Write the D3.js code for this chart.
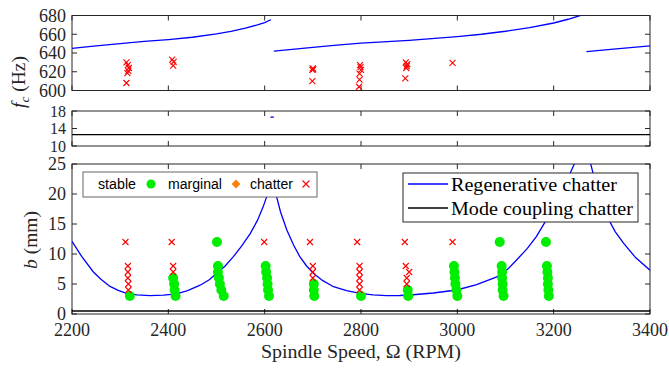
<!DOCTYPE html>
<html>
<head>
<meta charset="utf-8">
<script src="https://cdn.jsdelivr.net/npm/d3@7"></script>
<style>
body{margin:0;background:#fff;}
svg{display:block;}
text{font-family:"Liberation Serif","Times New Roman",serif;fill:#262626;}
</style>
</head>
<body>
<svg id="chart" width="669" height="371"></svg>
<script>
// ---------- data ----------
const xTicks = [2200, 2400, 2600, 2800, 3000, 3200, 3400];
const fTicks = [600, 620, 640, 660, 680];
const midTicks = [10, 14, 18];
const bTicks = [0, 5, 10, 15, 20, 25];

// regenerative chatter frequency branches (top panel)
const freqBranch1 = [[2200,645],[2250,647.5],[2300,650],[2350,652.3],[2400,654.3],[2450,656.8],[2500,660.3],[2530,663],[2560,666.5],[2585,670],[2600,672.5],[2613,675.5]];
const freqBranch2 = [[2619,642],[2700,646],[2750,648.5],[2800,650.5],[2900,653.5],[3000,657.5],[3050,660],[3100,663.2],[3150,667],[3200,672],[3230,676],[3258,680.5]];
const freqBranch3 = [[3268,641.5],[3330,644.5],[3400,647.5]];
// middle panel
const midRegen = [[2612,16.6],[2619,16.6]];
const midCoupling = [[2200,12.6],[3400,12.6]];
// stability lobes (bottom panel)
const lobeLeft = [[2200,12.1],[2220,9.6],[2244,7.05],[2260,5.8],[2279,4.6],[2296,3.95],[2313,3.45],[2335,3.2],[2362,3.06],[2390,3.15],[2417,3.35],[2440,3.9],[2466,4.8],[2485,5.7],[2500,6.75],[2518,8.0],[2535,9.55],[2552,11.3],[2570,13.4],[2585,15.6],[2597,17.9],[2608,20.4],[2612,21.1],[2618,21.1],[2622,20.4]];
const lobeMid = [[2622,20.4],[2633,17.0],[2646,14.0],[2660,11.5],[2673,9.55],[2687,8.0],[2701,6.8],[2720,5.6],[2743,4.55],[2770,3.9],[2798,3.45],[2825,3.2],[2853,3.06],[2880,3.08],[2902,3.17],[2950,3.5],[2999,4.0],[3040,4.9],[3082,6.2],[3105,7.5],[3123,9.0],[3145,10.9],[3164,12.9],[3182,15.3],[3199,17.9],[3218,20.6],[3234,23.4],[3251,26.5],[3264,29.5]];
const lobeRight = [[3264,29.5],[3276,25.3],[3292,20.2],[3311,16.2],[3328,13.7],[3345,11.8],[3370,9.4],[3400,7.3]];
const couplingB = [[2200,0.5],[3400,0.5]];

// measured points
const stableRpm = [2320, 2410,2412,2413,2415, 2501,2503,2503,2505,2507,2510,2515, 2602,2603,2605,2606,2607,2609, 2702,2702,2703, 2800, 2897,2898, 2993,2994,2995,2996,2998,3000, 3088,3092,3093,3093,3094,3094,3096, 3184,3186,3187,3188,3188,3189,3190];
const stableB   = [3, 6,5,4,3, 12,8,7,6,5,4,3, 8,7,6,5,4,3, 5,4,3, 3, 4,3, 8,7,6,5,4,3, 12,8,7,6,5,4,3, 12,8,7,6,5,4,3];
const chatterRpm = [2311,2316,2316,2316,2317,2317, 2407,2410,2410, 2599, 2694,2700,2700,2700, 2792,2797,2797,2797,2797,2797, 2891,2893,2900,2895,2895, 2990];
const chatterB   = [12,8,7,6,5,4, 12,8,7, 12, 12,8,7,6, 12,8,7,6,5,4, 12,8,7,6,5, 12];
const chatterFreqRpm = [2313,2316,2318,2317,2315,2313, 2408,2411,2410, 2700,2701,2699,2699, 2798,2799,2800,2797,2797,2796, 2893,2896,2895,2894,2892, 2990];
const chatterFreq    = [630,627,624,621,618.5,608, 633,630.5,626.5, 623.5,622.5,622,610, 627,625,622,618,611.5,604, 630,628,626,624,613, 629.5];

// ---------- layout ----------
const svg = d3.select('#chart');
const X0 = 72, X1 = 650;
const x = d3.scaleLinear().domain([2200, 3400]).range([X0, X1]);
const yTop = d3.scaleLinear().domain([600, 680]).range([90.5, 15.5]);
const yMid = d3.scaleLinear().domain([10, 18]).range([146, 111]);
const yBot = d3.scaleLinear().domain([0, 25]).range([314, 164]);
const axisColor = '#262626';

function panel(id, yScale, yTickVals, showX, fs) {
  const g = svg.append('g');
  const [yb, yt] = yScale.range();
  svg.append('clipPath').attr('id', id).append('rect')
    .attr('x', X0).attr('y', yt).attr('width', X1 - X0).attr('height', yb - yt);
  const frame = g.append('g').attr('class', 'frame');
  const tl = 5;
  xTicks.forEach(v => {
    frame.append('line').attr('x1', x(v)).attr('x2', x(v)).attr('y1', yb).attr('y2', yb - tl);
    frame.append('line').attr('x1', x(v)).attr('x2', x(v)).attr('y1', yt).attr('y2', yt + tl);
  });
  yTickVals.forEach(v => {
    frame.append('line').attr('x1', X0).attr('x2', X0 + tl).attr('y1', yScale(v)).attr('y2', yScale(v));
    frame.append('line').attr('x1', X1).attr('x2', X1 - tl).attr('y1', yScale(v)).attr('y2', yScale(v));
    g.append('text').attr('x', X0 - 6).attr('y', yScale(v)).attr('dy', '0.35em')
      .attr('text-anchor', 'end').attr('font-size', fs).text(v);
  });
  frame.append('rect').attr('x', X0).attr('y', yt).attr('width', X1 - X0).attr('height', yb - yt)
    .attr('fill', 'none');
  frame.selectAll('line,rect').attr('stroke', axisColor).attr('stroke-width', 1);
  if (showX) {
    xTicks.forEach(v => {
      g.append('text').attr('x', x(v)).attr('y', yb + 22).attr('text-anchor', 'middle')
        .attr('font-size', 18).text(v);
    });
  }
  return g;
}

const gTop = panel('clipTop', yTop, fTicks, false, 18);
const gMid = panel('clipMid', yMid, midTicks, false, 16);
const gBot = panel('clipBot', yBot, bTicks, true, 18);

function drawLine(g, clip, data, yScale, color, w) {
  g.append('path').datum(data).attr('clip-path', `url(#${clip})`)
    .attr('fill', 'none').attr('stroke', color).attr('stroke-width', w)
    .attr('d', d3.line().x(d => x(d[0])).y(d => yScale(d[1])));
}
function drawX(g, cx, cy, s, color) {
  g.append('path').attr('d', `M${cx - s},${cy - s}L${cx + s},${cy + s}M${cx - s},${cy + s}L${cx + s},${cy - s}`)
    .attr('stroke', color).attr('stroke-width', 1.1).attr('fill', 'none');
}

const BLUE = '#0000ff', RED = '#ff0000', GREEN = '#00ee00', ORANGE = '#ff7f0e';

// top panel
[freqBranch1, freqBranch2, freqBranch3].forEach(b => drawLine(gTop, 'clipTop', b, yTop, BLUE, 1.3));
chatterFreqRpm.forEach((r, i) => drawX(gTop, x(r), yTop(chatterFreq[i]), 3, RED));

// middle panel
drawLine(gMid, 'clipMid', midRegen, yMid, BLUE, 1.3);
drawLine(gMid, 'clipMid', midCoupling, yMid, '#000', 1.3);

// bottom panel
[lobeLeft, lobeMid, lobeRight].forEach(b => drawLine(gBot, 'clipBot', b, yBot, BLUE, 1.3));
drawLine(gBot, 'clipBot', couplingB, yBot, '#000', 1.3);
stableRpm.forEach((r, i) => {
  gBot.append('circle').attr('cx', x(r)).attr('cy', yBot(stableB[i])).attr('r', 5).attr('fill', GREEN);
});
chatterRpm.forEach((r, i) => drawX(gBot, x(r), yBot(chatterB[i]), 3, RED));

// axis titles
const fl = svg.append('text').attr('transform', 'translate(25,82) rotate(-90)')
  .attr('text-anchor', 'middle').attr('font-size', 19.5);
fl.append('tspan').attr('font-style', 'italic').text('f');
fl.append('tspan').attr('font-style', 'italic').attr('font-size', 13.5).attr('dy', 4).text('c');
fl.append('tspan').attr('dy', -4).text(' (Hz)');

const bl = svg.append('text').attr('transform', 'translate(37,240) rotate(-90)')
  .attr('text-anchor', 'middle').attr('font-size', 19.5);
bl.append('tspan').attr('font-style', 'italic').text('b');
bl.append('tspan').text(' (mm)');

svg.append('text').attr('x', (X0 + X1) / 2).attr('y', 358).attr('text-anchor', 'middle')
  .attr('font-size', 19).attr('textLength', 200).attr('lengthAdjust', 'spacingAndGlyphs')
  .text('Spindle Speed, Ω (RPM)');

// legend 1 (markers)
const L1 = svg.append('g');
L1.append('rect').attr('x', 83).attr('y', 172).attr('width', 234).attr('height', 25)
  .attr('fill', '#fff').attr('stroke', '#666').attr('stroke-width', 1);
const sans = '"Liberation Sans", Arial, sans-serif';
[['stable', 98, 38], ['marginal', 168, 54], ['chatter', 250, 43]].forEach(([t, tx, tw]) => {
  L1.append('text').attr('x', tx).attr('y', 189).attr('font-size', 14)
    .attr('textLength', tw).attr('lengthAdjust', 'spacingAndGlyphs')
    .style('font-family', sans).style('fill', '#000').text(t);
});
L1.append('circle').attr('cx', 151).attr('cy', 184).attr('r', 4.5).attr('fill', GREEN);
L1.append('path').attr('d', d3.symbol(d3.symbolDiamond2, 50)()).attr('transform', 'translate(236,184)').attr('fill', ORANGE);
drawX(L1, 306, 184, 3.5, RED);

// legend 2 (lines)
const L2 = svg.append('g');
L2.append('rect').attr('x', 403).attr('y', 173).attr('width', 235).attr('height', 49)
  .attr('fill', '#fff').attr('stroke', axisColor).attr('stroke-width', 1);
[['Regenerative chatter', BLUE, 184, 166], ['Mode coupling chatter', '#000', 208, 182]].forEach(([t, c, ly, tw]) => {
  L2.append('line').attr('x1', 408).attr('x2', 448).attr('y1', ly).attr('y2', ly)
    .attr('stroke', c).attr('stroke-width', 1.3);
  L2.append('text').attr('x', 451).attr('y', ly).attr('dy', '0.35em').attr('font-size', 19)
    .attr('textLength', tw).attr('lengthAdjust', 'spacingAndGlyphs')
    .style('fill', '#000').text(t);
});
</script>
</body>
</html>
